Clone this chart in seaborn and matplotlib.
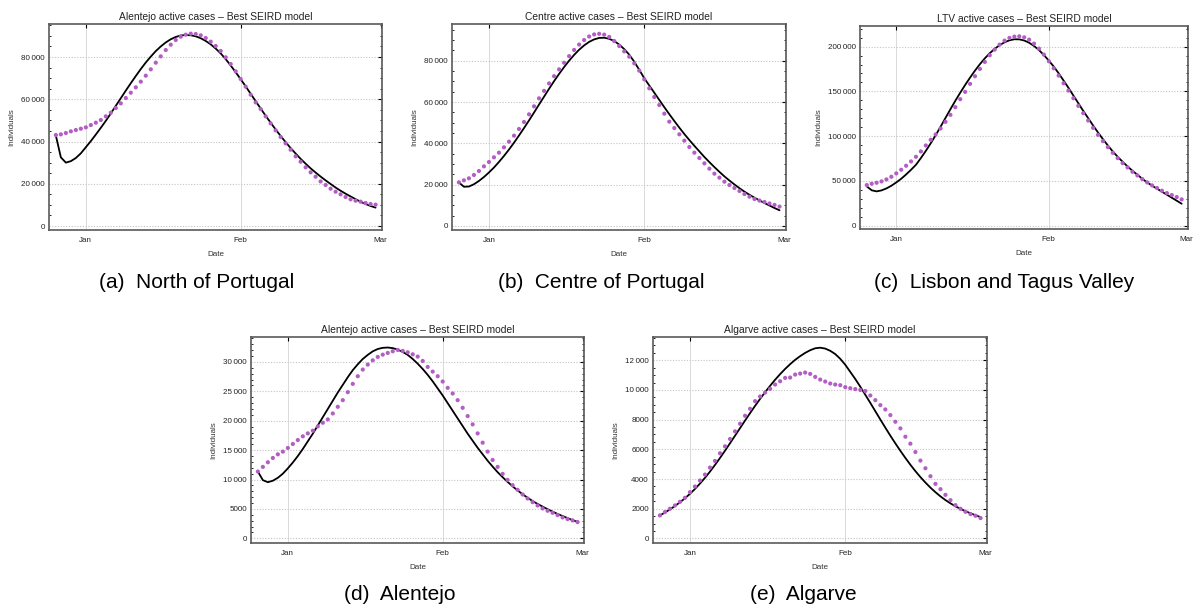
import numpy as np
import pandas as pd
import matplotlib
matplotlib.use("Agg")
import matplotlib.pyplot as plt
import matplotlib.dates as mdates
from matplotlib.ticker import MultipleLocator, FuncFormatter
import seaborn as sns

# ---- data: daily active cases (observed dots) and best SEIRD fit (line) ----
dates = pd.date_range("2020-12-26", "2021-02-28", freq="D")

north_obs = [43080, 43390, 44020, 44810, 45440, 46070, 46700, 47800, 48910, 50170,
             51910, 53650, 55850, 58070, 60590, 63110, 65640, 68330, 71170, 74170,
             77320, 80320, 83320, 85840, 88050, 89630, 90580, 91050, 90890, 90260,
             89000, 87260, 85210, 82850, 79850, 76690, 73220, 69590, 65960, 62170,
             58540, 55390, 51910, 48600, 45290, 42130, 39130, 36130, 32980, 30460,
             27770, 25410, 23350, 21100, 19410, 17670, 16250, 14990, 13730, 12620,
             11990, 11520, 10890, 10410, 10100]
north_fit = [42800, 32500, 30000, 30700, 32200, 34400, 37300, 40200, 43300, 46500,
             49800, 53300, 56900, 60500, 64100, 67600, 71000, 74300, 77400, 80200,
             82800, 85000, 86900, 88400, 89500, 90200, 90400, 90300, 89800, 88900,
             87600, 86000, 84000, 81700, 79000, 76000, 72800, 69500, 66100, 62600,
             59100, 55600, 52200, 48900, 45700, 42600, 39700, 36900, 34300, 31800,
             29500, 27300, 25300, 23400, 21600, 19900, 18200, 16700, 15300, 14000,
             12700, 11500, 10400, 9500, 8700]

centre_obs = [21130, 22100, 23070, 24680, 26610, 28870, 30970, 33230, 35490, 38070,
              40810, 43710, 46940, 50330, 54040, 57910, 61780, 65400, 69000, 72500,
              75800, 79000, 82200, 85200, 87800, 90000, 91700, 92700, 93000, 92600,
              91500, 89520, 87100, 84520, 81940, 78710, 75170, 70970, 66620, 62420,
              58550, 54360, 50490, 47400, 44360, 41290, 38230, 35490, 32910, 30320,
              27740, 25320, 23390, 21450, 19840, 18390, 16940, 15480, 14190, 13070,
              12300, 11600, 10900, 10200, 9400]
centre_fit = [21100, 19000, 19100, 20200, 21800, 23700, 25900, 28300, 31000, 33900,
              37000, 40300, 43800, 47400, 51100, 54900, 58800, 62600, 66400, 70100,
              73600, 76900, 80000, 82800, 85300, 87400, 89100, 90300, 91000, 91100,
              90600, 89500, 87800, 85600, 82900, 79500, 75600, 71500, 68000, 64500,
              61000, 57500, 54100, 50800, 47600, 44500, 41600, 38800, 36100, 33400,
              30900, 28500, 26200, 24000, 22000, 20100, 18300, 16600, 15100, 13700,
              12400, 11100, 9900, 8700, 7600]

ltv_obs = [45350, 46830, 47950, 49440, 51670, 54640, 58360, 62450, 66910, 71740,
           76940, 82890, 89580, 95900, 101850, 108540, 115970, 123780, 132330, 141250,
           149420, 158340, 166890, 175070, 182880, 190310, 196630, 202200, 206670, 209640,
           211130, 211500, 210380, 207780, 203320, 197740, 191050, 183620, 175810, 167640,
           159090, 150910, 142360, 133810, 125630, 117460, 109280, 101470, 94410, 87720,
           81400, 75460, 69880, 65050, 60220, 56130, 52040, 48320, 44980, 42000,
           39030, 36430, 34200, 31970, 29360]
ltv_fit = [43900, 39500, 38300, 39400, 41600, 44600, 48300, 52400, 57200, 62400,
           68000, 75500, 83500, 92000, 101000, 110500, 120300, 130000, 139500, 148500,
           157200, 165400, 173200, 180400, 186900, 192600, 197500, 201600, 204800, 207000,
           208200, 208100, 206800, 204300, 200700, 196100, 190600, 184400, 177700, 170200,
           162100, 153900, 145300, 136800, 128200, 120100, 111900, 104100, 96600, 89600,
           82900, 76900, 71400, 66200, 61300, 56900, 52400, 48300, 44600, 41300,
           37900, 34600, 31200, 27900, 24500]

alentejo_obs = [11360, 12150, 12940, 13670, 14290, 14750, 15370, 16050, 16720, 17350,
                17850, 18310, 19040, 19660, 20230, 21240, 22370, 23500, 24860, 26270,
                27570, 28700, 29550, 30280, 30850, 31240, 31530, 31810, 32040, 31870,
                31640, 31300, 30910, 30170, 29150, 28360, 27570, 26670, 25590, 24630,
                23500, 22200, 20790, 19380, 17850, 16270, 14750, 13330, 12150, 10960,
                9940, 9040, 8250, 7460, 6780, 6160, 5590, 5090, 4690, 4350,
                3960, 3560, 3280, 3050, 2770]
alentejo_fit = [11360, 9900, 9550, 9800, 10300, 11000, 11900, 12900, 14000, 15200,
                16500, 17800, 19200, 20600, 22000, 23400, 24800, 26100, 27400, 28600,
                29600, 30500, 31200, 31800, 32200, 32400, 32450, 32350, 32100, 31700,
                31200, 30500, 29700, 28800, 27800, 26700, 25500, 24300, 23000, 21700,
                20400, 19100, 17800, 16600, 15400, 14300, 13200, 12200, 11250, 10400,
                9600, 8850, 8150, 7500, 6900, 6350, 5850, 5400, 4950, 4550,
                4150, 3800, 3450, 3100, 2800]

algarve_obs = [1545, 1769, 1993, 2217, 2463, 2732, 3112, 3493, 3896, 4299,
               4769, 5217, 5732, 6202, 6695, 7210, 7725, 8262, 8732, 9247,
               9561, 9829, 10076, 10367, 10590, 10814, 10837, 11038, 11105, 11173,
               11083, 10882, 10702, 10568, 10434, 10367, 10322, 10190, 10120, 10060,
               10000, 9930, 9628, 9314, 8978, 8687, 8307, 7859, 7411, 6851,
               6381, 5821, 5239, 4724, 4187, 3672, 3314, 2933, 2575, 2239,
               1993, 1791, 1634, 1523, 1366]
algarve_fit = [1545, 1740, 1950, 2180, 2430, 2700, 3000, 3330, 3690, 4080,
               4500, 4950, 5420, 5910, 6410, 6920, 7430, 7940, 8440, 8930,
               9400, 9850, 10280, 10690, 11070, 11420, 11740, 12030, 12280, 12500,
               12680, 12810, 12850, 12790, 12640, 12420, 12100, 11700, 11220, 10740,
               10220, 9680, 9130, 8570, 8010, 7460, 6920, 6400, 5900, 5420,
               4960, 4530, 4130, 3760, 3420, 3110, 2830, 2580, 2360, 2160,
               1990, 1830, 1690, 1560, 1430]

titles = ["Alentejo active cases \u2013 Best SEIRD model",
          "Centre active cases \u2013 Best SEIRD model",
          "LTV active cases \u2013 Best SEIRD model",
          "Alentejo active cases \u2013 Best SEIRD model",
          "Algarve active cases \u2013 Best SEIRD model"]
captions = ["(a)  North of Portugal", "(b)  Centre of Portugal",
            "(c)  Lisbon and Tagus Valley", "(d)  Alentejo", "(e)  Algarve"]

# ---- style ----
sns.set_theme(style="white")
plt.rcParams["font.family"] = ["Liberation Sans", "DejaVu Sans"]

W, H = 1197, 607
fig = plt.figure(figsize=(W / 100, H / 100), dpi=100)

# panel boxes in pixels: left, right, top, bottom
boxes = [(49, 382, 24, 230), (452, 786, 24, 230), (860, 1188, 26, 229),
         (251, 584, 337, 543), (653, 987, 337, 543)]
ylims = [(-1890, 95630), (-1940, 97750), (-3720, 223000), (-790, 34240), (-313, 13570)]
ymajor = [20000, 20000, 50000, 5000, 2000]
yminor = [5000, 5000, 10000, 1000, 500]
caption_pos = [(197, 282), (601, 282), (1004, 282), (400, 595), (803, 595)]

series = [(north_obs, north_fit), (centre_obs, centre_fit), (ltv_obs, ltv_fit),
          (alentejo_obs, alentejo_fit), (algarve_obs, algarve_fit)]


def fmt_num(v, _pos):
    v = int(round(v))
    s = str(abs(v))
    if len(s) >= 5:
        groups = []
        while s:
            groups.insert(0, s[-3:])
            s = s[:-3]
        s = "\u2009".join(groups)
    return ("-" if v < 0 else "") + s


dot_color = "#b35ec4"
frame_color = "#5a5a5a"

for k, ((obs, fit), (l, r, t, b)) in enumerate(zip(series, boxes)):
    ax = fig.add_axes([l / W, 1 - b / H, (r - l) / W, (b - t) / H])
    df = pd.DataFrame({"Date": dates, "fit": fit, "obs": obs})
    sns.lineplot(data=df, x="Date", y="fit", color="black", linewidth=1.3,
                 ax=ax, zorder=3)
    sns.scatterplot(data=df, x="Date", y="obs", color=dot_color, s=9,
                    edgecolor="none", linewidth=0, ax=ax, zorder=4)

    ax.set_xlim(pd.Timestamp("2020-12-24 15:00"), pd.Timestamp("2021-03-01 07:00"))
    ax.set_ylim(*ylims[k])

    ax.xaxis.set_major_locator(mdates.MonthLocator())
    ax.xaxis.set_major_formatter(mdates.DateFormatter("%b"))
    ax.yaxis.set_major_locator(MultipleLocator(ymajor[k]))
    ax.yaxis.set_minor_locator(MultipleLocator(yminor[k]))
    ax.yaxis.set_major_formatter(FuncFormatter(fmt_num))

    ax.grid(axis="x", which="major", color="#d4d4d4", linewidth=0.6, linestyle="-")
    ax.grid(axis="y", which="major", color="#c4c4c4", linewidth=0.8, linestyle=(0, (1, 1.5)))
    ax.set_axisbelow(True)

    for sp in ax.spines.values():
        sp.set_visible(True)
        sp.set_color(frame_color)
        sp.set_linewidth(1.2)

    ax.tick_params(axis="both", which="major", direction="in", length=3, width=0.8,
                   color="black", labelsize=5.8, labelcolor="#222222",
                   top=True, right=True, pad=3)
    ax.tick_params(axis="x", which="major", pad=5)
    ax.tick_params(axis="y", which="minor", direction="in", length=1.6, width=0.6,
                   color="black", left=True, right=True)

    ax.set_title(titles[k], fontsize=7.4, color="#222222", pad=3)
    ax.set_xlabel("Date", fontsize=5.8, color="#333333", labelpad=5)
    ax.set_ylabel("Individuals", fontsize=5.8, color="#333333", labelpad=4)

    cx, cy = caption_pos[k]
    fig.text(cx / W, 1 - cy / H, captions[k], fontsize=15, color="black",
             ha="center", va="center")

fig.savefig("out.png", dpi=100, facecolor="white")
